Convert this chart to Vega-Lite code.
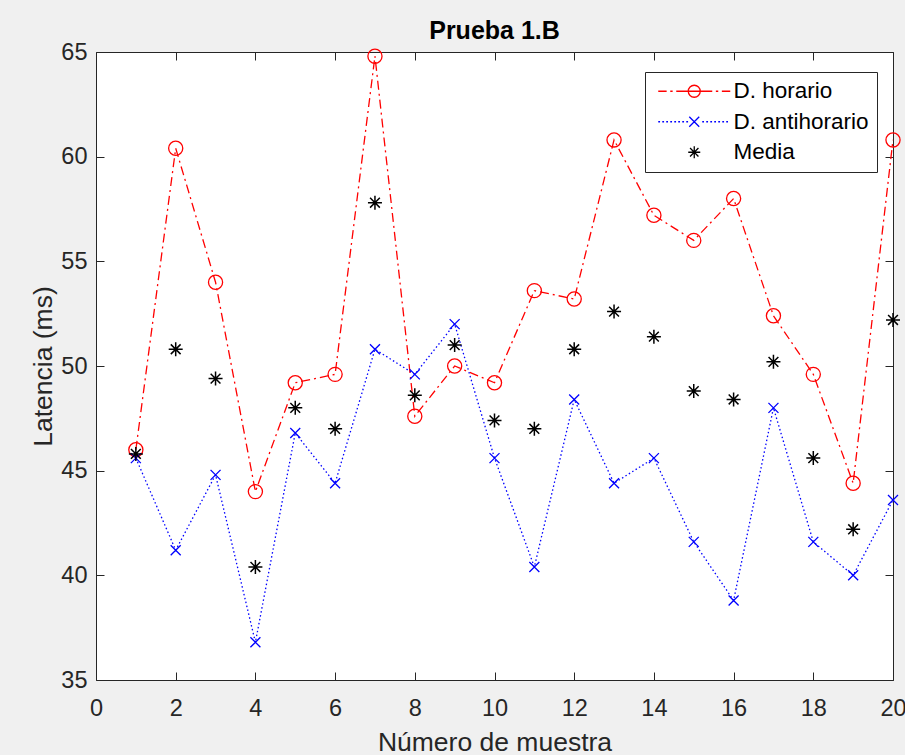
{
  "$schema": "https://vega.github.io/schema/vega-lite/v6.json",
  "width": 797,
  "height": 628,
  "autosize": {"type": "none"},
  "padding": {"left": 96, "top": 52, "right": 12, "bottom": 75},
  "background": "#f0f0f0",
  "title": {"text": "Prueba 1.B", "fontSize": 25, "font": "Liberation Sans", "fontWeight": "bold", "color": "#000000", "baseline": "alphabetic", "offset": 12, "dy": 36, "anchor": "middle", "frame": "group"},
  "config": {
    "view": {"fill": "white", "stroke": null},
    "axis": {"grid": false, "domainColor": "#262626", "tickColor": "#262626", "labelColor": "#262626", "titleColor": "#262626", "labelFont": "Liberation Sans", "titleFont": "Liberation Sans", "labelFontSize": 23.5, "titleFontSize": 26.5, "titleFontWeight": "normal", "tickSize": -8, "domainWidth": 1, "tickWidth": 1, "labelFlush": false, "labelOverlap": false, "labelBound": false}
  },
  "data": {"values": [
    {"n": 1, "serie": "D. horario", "lat": 46.0},
    {"n": 2, "serie": "D. horario", "lat": 60.4},
    {"n": 3, "serie": "D. horario", "lat": 54.0},
    {"n": 4, "serie": "D. horario", "lat": 44.0},
    {"n": 5, "serie": "D. horario", "lat": 49.2},
    {"n": 6, "serie": "D. horario", "lat": 49.6},
    {"n": 7, "serie": "D. horario", "lat": 64.8},
    {"n": 8, "serie": "D. horario", "lat": 47.6},
    {"n": 9, "serie": "D. horario", "lat": 50.0},
    {"n": 10, "serie": "D. horario", "lat": 49.2},
    {"n": 11, "serie": "D. horario", "lat": 53.6},
    {"n": 12, "serie": "D. horario", "lat": 53.2},
    {"n": 13, "serie": "D. horario", "lat": 60.8},
    {"n": 14, "serie": "D. horario", "lat": 57.2},
    {"n": 15, "serie": "D. horario", "lat": 56.0},
    {"n": 16, "serie": "D. horario", "lat": 58.0},
    {"n": 17, "serie": "D. horario", "lat": 52.4},
    {"n": 18, "serie": "D. horario", "lat": 49.6},
    {"n": 19, "serie": "D. horario", "lat": 44.4},
    {"n": 20, "serie": "D. horario", "lat": 60.8},
    {"n": 1, "serie": "D. antihorario", "lat": 45.6},
    {"n": 2, "serie": "D. antihorario", "lat": 41.2},
    {"n": 3, "serie": "D. antihorario", "lat": 44.8},
    {"n": 4, "serie": "D. antihorario", "lat": 36.8},
    {"n": 5, "serie": "D. antihorario", "lat": 46.8},
    {"n": 6, "serie": "D. antihorario", "lat": 44.4},
    {"n": 7, "serie": "D. antihorario", "lat": 50.8},
    {"n": 8, "serie": "D. antihorario", "lat": 49.6},
    {"n": 9, "serie": "D. antihorario", "lat": 52.0},
    {"n": 10, "serie": "D. antihorario", "lat": 45.6},
    {"n": 11, "serie": "D. antihorario", "lat": 40.4},
    {"n": 12, "serie": "D. antihorario", "lat": 48.4},
    {"n": 13, "serie": "D. antihorario", "lat": 44.4},
    {"n": 14, "serie": "D. antihorario", "lat": 45.6},
    {"n": 15, "serie": "D. antihorario", "lat": 41.6},
    {"n": 16, "serie": "D. antihorario", "lat": 38.8},
    {"n": 17, "serie": "D. antihorario", "lat": 48.0},
    {"n": 18, "serie": "D. antihorario", "lat": 41.6},
    {"n": 19, "serie": "D. antihorario", "lat": 40.0},
    {"n": 20, "serie": "D. antihorario", "lat": 43.6},
    {"n": 1, "serie": "Media", "lat": 45.8},
    {"n": 2, "serie": "Media", "lat": 50.8},
    {"n": 3, "serie": "Media", "lat": 49.4},
    {"n": 4, "serie": "Media", "lat": 40.4},
    {"n": 5, "serie": "Media", "lat": 48.0},
    {"n": 6, "serie": "Media", "lat": 47.0},
    {"n": 7, "serie": "Media", "lat": 57.8},
    {"n": 8, "serie": "Media", "lat": 48.6},
    {"n": 9, "serie": "Media", "lat": 51.0},
    {"n": 10, "serie": "Media", "lat": 47.4},
    {"n": 11, "serie": "Media", "lat": 47.0},
    {"n": 12, "serie": "Media", "lat": 50.8},
    {"n": 13, "serie": "Media", "lat": 52.6},
    {"n": 14, "serie": "Media", "lat": 51.4},
    {"n": 15, "serie": "Media", "lat": 48.8},
    {"n": 16, "serie": "Media", "lat": 48.4},
    {"n": 17, "serie": "Media", "lat": 50.2},
    {"n": 18, "serie": "Media", "lat": 45.6},
    {"n": 19, "serie": "Media", "lat": 42.2},
    {"n": 20, "serie": "Media", "lat": 52.2}
  ]},
  "layer": [
    {
      "transform": [{"filter": "datum.serie !== 'Media'"}],
      "mark": {"type": "line", "strokeWidth": 1.3},
      "encoding": {
        "x": {"field": "n", "type": "quantitative", "scale": {"domain": [0, 20], "nice": false}, "axis": {"orient": "bottom", "values": [0, 2, 4, 6, 8, 10, 12, 14, 16, 18, 20], "title": "Número de muestra", "labelPadding": 43, "labelBaseline": "alphabetic", "titleY": 70, "titleBaseline": "alphabetic"}},
        "y": {"field": "lat", "type": "quantitative", "scale": {"domain": [35, 65], "nice": false, "zero": false}, "axis": {"orient": "left", "values": [35, 40, 45, 50, 55, 60, 65], "title": "Latencia (ms)", "labelPadding": 17, "titleX": -45, "titleY": 314, "titleBaseline": "alphabetic", "titleAngle": 270}},
        "color": {"field": "serie", "type": "nominal", "scale": {"domain": ["D. horario", "D. antihorario", "Media"], "range": ["#ff0000", "#0000ff", "#000000"]},
          "legend": {"title": null, "orient": "none", "legendX": 549, "legendY": 20, "direction": "vertical", "fillColor": "white", "strokeColor": "#262626", "padding": 8, "rowPadding": 7.5, "labelFont": "Liberation Sans", "labelFontSize": 22.5, "labelColor": "#000000", "labelOffset": 58, "symbolSize": 144, "symbolStrokeWidth": 1.3,
            "encode": {"symbols": {"update": {
              "shape": {"signal": "datum.value === 'D. horario' ? 'M-1,0L0.4,0M1,0L1.4,0M2,0L8,0M8.6,0L9,0M9.6,0L11,0M4,0A1,1 0 1,1 6,0A1,1 0 1,1 4,0' : (datum.value === 'D. antihorario' ? 'M-1,0L-0.7,0M-0.33,0L-0.03,0M0.33,0L0.63,0M1,0L1.3,0M1.67,0L1.97,0M2.33,0L2.63,0M3,0L3.3,0M3.67,0L3.97,0M6.33,0L6.63,0M7,0L7.3,0M7.67,0L7.97,0M8.33,0L8.63,0M9,0L9.3,0M9.67,0L9.97,0M10.33,0L10.63,0M4.17,-0.83L5.83,0.83M4.17,0.83L5.83,-0.83' : 'M5,-1L5,1M4,0L6,0M4.3,-0.7L5.7,0.7M4.3,0.7L5.7,-0.7')"},
              "stroke": {"signal": "datum.value === 'D. horario' ? '#ff0000' : (datum.value === 'D. antihorario' ? '#0000ff' : '#000000')"},
              "fill": {"value": "transparent"},
              "strokeDash": {"value": []},
              "size": {"value": 144},
              "strokeWidth": {"value": 1.3},
              "opacity": {"value": 1}
            }}}
          }},
        "strokeDash": {"field": "serie", "type": "nominal", "scale": {"domain": ["D. horario", "D. antihorario"], "range": [[9, 4, 2, 4], [1.5, 2.5]]}, "legend": null}
      }
    },
    {
      "transform": [{"filter": "datum.serie === 'D. horario'"}],
      "mark": {"type": "point", "filled": false, "strokeWidth": 1.3, "opacity": 1, "shape": "circle", "size": 200, "stroke": "#ff0000"},
      "encoding": {
        "x": {"field": "n", "type": "quantitative", "axis": {"orient": "top", "values": [0, 2, 4, 6, 8, 10, 12, 14, 16, 18, 20], "labels": false, "title": null}},
        "y": {"field": "lat", "type": "quantitative", "axis": {"orient": "right", "values": [35, 40, 45, 50, 55, 60, 65], "labels": false, "title": null}}
      }
    },
    {
      "transform": [{"filter": "datum.serie === 'D. antihorario'"}],
      "mark": {"type": "point", "filled": false, "strokeWidth": 1.3, "opacity": 1, "shape": "M-1,-1L1,1M-1,1L1,-1", "size": 100, "stroke": "#0000ff"},
      "encoding": {
        "x": {"field": "n", "type": "quantitative", "axis": null},
        "y": {"field": "lat", "type": "quantitative", "axis": null}
      }
    },
    {
      "transform": [{"filter": "datum.serie === 'Media'"}],
      "mark": {"type": "point", "filled": false, "strokeWidth": 1.5, "opacity": 1, "shape": "M0,-1L0,1M-1,0L1,0M-0.7,-0.7L0.7,0.7M-0.7,0.7L0.7,-0.7", "size": 196, "stroke": "#000000"},
      "encoding": {
        "x": {"field": "n", "type": "quantitative", "axis": null},
        "y": {"field": "lat", "type": "quantitative", "axis": null}
      }
    }
  ],
  "resolve": {"axis": {"x": "independent", "y": "independent"}}
}
